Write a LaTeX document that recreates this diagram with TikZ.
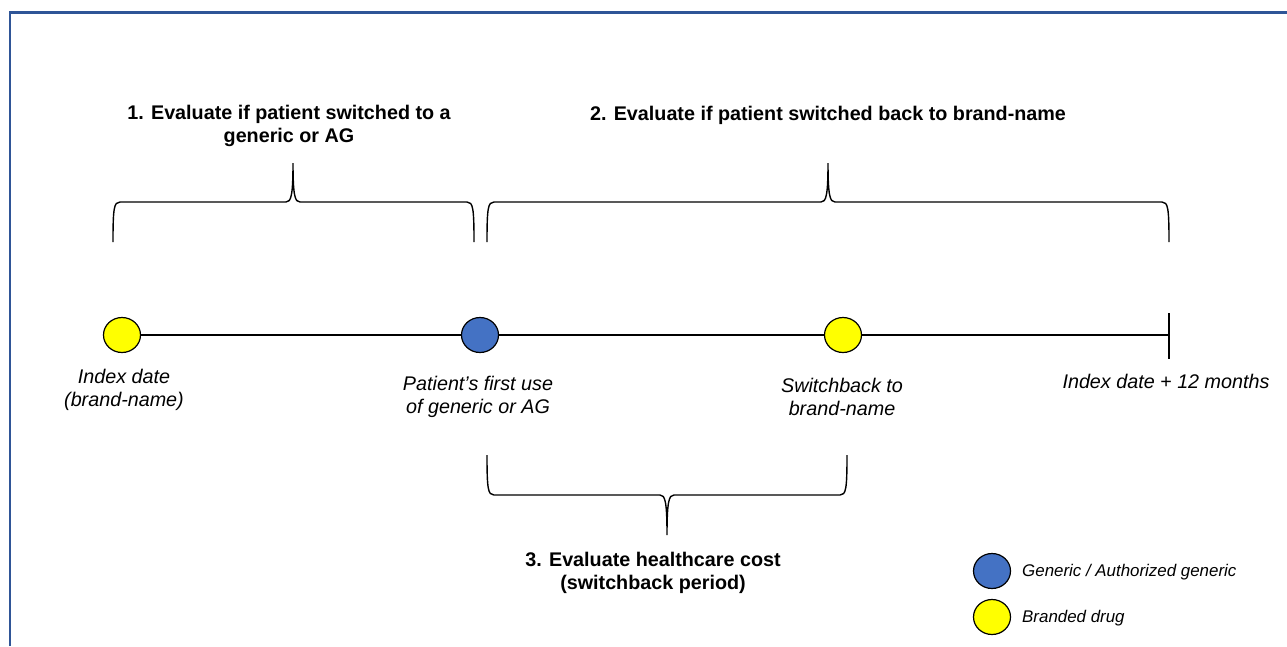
\documentclass[tikz,border=0pt]{standalone}
\usepackage{fontspec}
\setmainfont{Liberation Sans}
\usetikzlibrary{shapes.geometric}
\definecolor{frameblue}{RGB}{47,85,151}
\definecolor{dotblue}{RGB}{68,114,196}
\definecolor{dotyellow}{RGB}{255,255,0}
\tikzset{
  dot/.style={ellipse,draw=black,line width=1.2pt,minimum width=37pt,minimum height=35pt,inner sep=0pt},
  brand/.style={dot,fill=dotyellow},
  generic/.style={dot,fill=dotblue},
  title/.style={font=\fontsize{19.75}{23}\selectfont\bfseries,align=center,inner sep=0pt},
  lbl/.style={font=\fontsize{19.75}{23}\selectfont\itshape,align=center,inner sep=0pt},
  legtext/.style={font=\fontsize{16.9}{20}\selectfont\itshape,anchor=west,inner sep=0pt},
  brace/.style={draw=black,line width=1.4pt},
  timeline/.style={draw=black,line width=2pt},
}
\begin{document}
\begin{tikzpicture}[x=1pt,y=-1pt]
\useasboundingbox (0,0) rectangle (1287,646);
% frame
\draw[frameblue,line width=2.2pt] (10,646) -- (10,12.5) -- (1287,12.5);

% timeline points
\node[brand] (p1) at (122,335) {};
\node[generic] (p2) at (480,335) {};
\node[brand] (p3) at (843,335) {};
\coordinate (end) at (1169,335);
\coordinate (tickt) at (1169,313);
\coordinate (tickb) at (1169,359);
\draw[timeline] (p1) -- (p2);
\draw[timeline] (p2) -- (p3);
\draw[timeline] (p3) -- (end);
\draw[timeline] (tickt) -- (tickb);

% labels
\node[lbl] (l1) at (124,390) {Index date\\(brand-name)};
\node[lbl] (l2) at (478,397) {Patient’s first use\\of generic or AG};
\node[lbl] (l3) at (842,397) {Switchback to\\brand-name};
\node[lbl] (l4) at (1166,381) {Index date + 12 months};

% braces
\draw[brace] (113,242) .. controls (113,208) and (114,202) .. (120,202)
  -- (286,202) .. controls (291,202) and (293,196) .. (293,163)
  .. controls (293,196) and (295,202) .. (300,202)
  -- (467,202) .. controls (473,202) and (474,208) .. (474,242);
\draw[brace] (487,242) .. controls (487,208) and (488,202) .. (494,202)
  -- (821,202) .. controls (826,202) and (828,196) .. (828,163)
  .. controls (828,196) and (830,202) .. (835,202)
  -- (1162,202) .. controls (1168,202) and (1169,208) .. (1169,242);
\draw[brace] (487,455) .. controls (487,489) and (488,495) .. (494,495)
  -- (660,495) .. controls (665,495) and (667,501) .. (667,535)
  .. controls (667,501) and (669,495) .. (674,495)
  -- (840,495) .. controls (846,495) and (847,489) .. (847,455);

% titles
\node[title] (t1) at (289,126) {1. Evaluate if patient switched to a\\generic or AG};
\node[title] (t2) at (828,115) {2. Evaluate if patient switched back to brand-name};
\node[title] (t3) at (653,573) {3. Evaluate healthcare cost\\(switchback period)};

% legend
\node[generic] (lg1) at (992,571) {};
\node[brand] (lg2) at (992,617) {};
\node[legtext] (lt1) at (1022,572) {Generic / Authorized generic};
\node[legtext] (lt2) at (1022,618) {Branded drug};
\end{tikzpicture}
\end{document}
